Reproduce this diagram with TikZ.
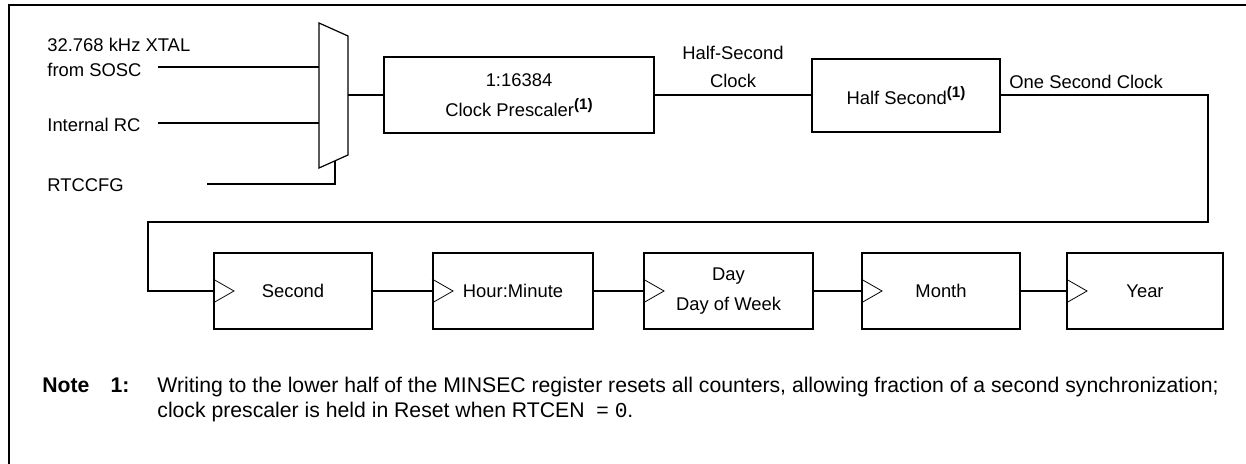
\documentclass[tikz,border=0pt]{standalone}
\usepackage{fontspec}
\setmainfont{Liberation Sans}
\setmonofont{Liberation Mono}
\usetikzlibrary{calc}
\newcommand{\fnref}{\raisebox{0.75ex}{\fontsize{7.6}{8}\selectfont\textbf{(1)}}}

\begin{document}
\begin{tikzpicture}[x=0.5pt,y=-0.5pt,
    wire/.style={line width=1pt},
    reg/.style={draw,line width=1pt,minimum height=38pt,inner sep=0pt,align=center,
        font=\fontsize{9.2}{15}\selectfont},
    clk/.style={line width=0.4pt},
    lbl/.style={inner sep=0pt,font=\fontsize{9.2}{12.5}\selectfont},
    notetxt/.style={inner sep=0pt,anchor=base west,font=\fontsize{10.6}{12}\selectfont}]
    \useasboundingbox (0,0) rectangle (1246,464);
    \draw[line width=1.3pt] (9,464) -- (9,5) -- (1246,5);
    \node[lbl,align=left,anchor=west] (xtal) at (47,57.5) {32.768 kHz XTAL\\from SOSC};
    \node[lbl,anchor=west] (intrc) at (47,125) {Internal RC};
    \node[lbl,anchor=west] (cfg) at (47,185) {RTCCFG};
    \draw[line width=0.6pt] (319,23) -- (348,36) -- (348,155) -- (319,168) -- cycle;
    \coordinate (muxa) at (319,67);
    \coordinate (muxb) at (319,123);
    \coordinate (muxs) at (335,161);
    \coordinate (muxo) at (348,95.5);
    \coordinate (ina) at (158,67);
    \coordinate (inb) at (158,123);
    \coordinate (ins) at (207,184);
    \node[reg,minimum width=135pt] (pre) at (519,95.5)
        {1:16384\\Clock Prescaler\fnref};
    \node[reg,minimum width=94pt,minimum height=36.5pt] (half) at (906,95.5)
        {Half Second\fnref};
    \node[lbl,align=center,font=\fontsize{9.2}{14}\selectfont] (hsclk) at (733,67) {Half-Second\\Clock};
    \node[lbl,anchor=west] (osclk) at (1009,82) {One Second Clock};
    \coordinate (turnr) at (1208,222);
    \coordinate (turnl) at (148,222);
    \node[reg,minimum width=79pt] (sec) at (293,291) {Second};
    \node[reg,minimum width=80pt] (hm) at (513,291) {Hour:Minute};
    \node[reg,minimum width=84.5pt] (day) at (728.5,291) {Day\\Day of Week};
    \node[reg,minimum width=79pt] (mon) at (941,291) {Month};
    \node[reg,minimum width=78pt] (yr) at (1145,291) {Year};
    \draw[wire] (ina) -- (muxa);
    \draw[wire] (inb) -- (muxb);
    \draw[wire] (ins) -| (muxs);
    \draw[wire] (muxo) -- (pre.west);
    \draw[wire] (pre.east) -- (half.west);
    \draw[wire] (half.east) -| (turnr) -- (turnl) |- (sec.west);
    \foreach \a/\b in {sec/hm,hm/day,day/mon,mon/yr}
        \draw[wire] (\a.east) -- (\b.west);
    \foreach \b in {sec,hm,day,mon,yr}
        \draw[clk] ($(\b.west)+(0,-12)$) -- ++(21,12) -- ++(-21,12);
    \node[notetxt] (note) at (42,393) {\textbf{Note\quad 1:}};
    \node[notetxt] (ln1) at (157,393)
        {Writing to the lower half of the MINSEC register resets all counters, allowing fraction of a second synchronization;};
    \node[notetxt] (ln2) at ([yshift=-12pt]ln1.base west)
        {clock prescaler is held in Reset when RTCEN\ \ = \texttt{0}.};
\end{tikzpicture}
\end{document}
